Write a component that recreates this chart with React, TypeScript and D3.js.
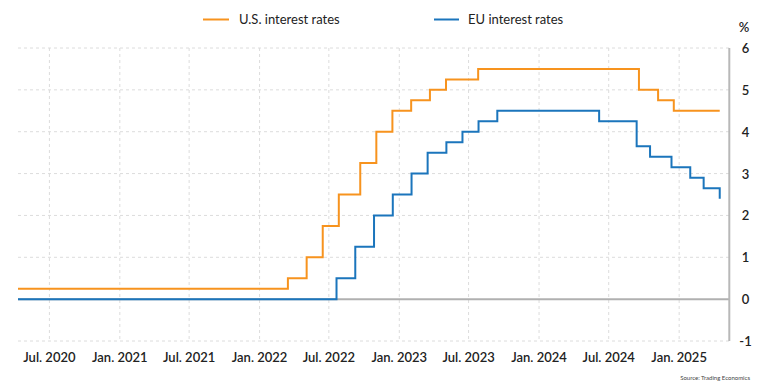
import React from "react";
import * as d3 from "d3";

// change dates and the rate set on each date (step after)
const usDates = [
  "2020-04-10", "2022-03-16", "2022-05-04", "2022-06-15", "2022-07-27", "2022-09-21",
  "2022-11-02", "2022-12-14", "2023-02-01", "2023-03-22", "2023-05-03", "2023-07-26",
  "2024-09-18", "2024-11-07", "2024-12-18",
];
const usRates = [0.25, 0.5, 1.0, 1.75, 2.5, 3.25, 4.0, 4.5, 4.75, 5.0, 5.25, 5.5, 5.0, 4.75, 4.5];

const euDates = [
  "2020-04-10", "2022-07-21", "2022-09-08", "2022-10-27", "2022-12-15", "2023-02-02",
  "2023-03-16", "2023-05-04", "2023-06-15", "2023-07-27", "2023-09-14", "2024-06-06",
  "2024-09-12", "2024-10-17", "2024-12-12", "2025-01-30", "2025-03-06", "2025-04-17",
];
const euRates = [0, 0.5, 1.25, 2.0, 2.5, 3.0, 3.5, 3.75, 4.0, 4.25, 4.5, 4.25, 3.65, 3.4, 3.15, 2.9, 2.65, 2.4];

const lastDate = "2025-04-17";
const xDomain = ["2020-04-10", "2025-05-12"];
const xTicks = ["2020-07-01", "2021-01-01", "2021-07-01", "2022-01-01", "2022-07-01",
  "2023-01-01", "2023-07-01", "2024-01-01", "2024-07-01", "2025-01-01"];
const xTickLabels = ["Jul. 2020", "Jan. 2021", "Jul. 2021", "Jan. 2022", "Jul. 2022",
  "Jan. 2023", "Jul. 2023", "Jan. 2024", "Jul. 2024", "Jan. 2025"];
const yTicks = [-1, 0, 1, 2, 3, 4, 5, 6];

const parse = d3.utcParse("%Y-%m-%d");

type Pt = { date: Date; value: number };

function toSeries(dates: string[], values: number[]): Pt[] {
  const pts = dates.map((d, i) => ({ date: parse(d)!, value: values[i] }));
  pts.push({ date: parse(lastDate)!, value: values[values.length - 1] });
  return pts;
}

const W = 768;
const H = 388;
const left = 18;
const right = 729.3;
const top = 48;
const bottom = 341;

const font = "Lato, 'Noto Sans', sans-serif";

export default function App() {
  const x = d3.scaleUtc()
    .domain(xDomain.map((d) => parse(d)!))
    .range([left, right]);
  const y = d3.scaleLinear().domain([-1, 6]).range([bottom, top]);

  const stepLine = d3.line<Pt>()
    .x((d) => x(d.date))
    .y((d) => y(d.value))
    .curve(d3.curveStepAfter);

  const us = toSeries(usDates, usRates);
  const eu = toSeries(euDates, euRates);

  const orange = "#f7931e";
  const blue = "#1b75bc";

  return (
    <svg width={W} height={H} style={{ position: "fixed", left: 0, top: 0, background: "#fff" }}>
      {/* legend */}
      <g fontFamily={font} fontSize={13} fill="#222">
        <line x1={203} x2={229} y1={19.5} y2={19.5} stroke={orange} strokeWidth={2} />
        <text x={239} y={24}>U.S. interest rates</text>
        <line x1={434} x2={459} y1={19.5} y2={19.5} stroke={blue} strokeWidth={2} />
        <text x={468} y={24}>EU interest rates</text>
      </g>

      {/* grid */}
      <g stroke="#dcdcdc" strokeWidth={1} strokeDasharray="3,3">
        {yTicks.filter((t) => t !== 0).map((t) => (
          <line key={t} x1={left} x2={right} y1={y(t)} y2={y(t)} />
        ))}
        {xTicks.map((t) => (
          <line key={t} x1={x(parse(t)!)} x2={x(parse(t)!)} y1={top} y2={bottom} />
        ))}
      </g>
      <line x1={left} x2={right} y1={y(0)} y2={y(0)} stroke="#b0b0b0" strokeWidth={2} />
      <line x1={right} x2={right} y1={top} y2={bottom} stroke="#b8b8b8" strokeWidth={2} />

      {/* series */}
      <path d={stepLine(us) ?? ""} fill="none" stroke={orange} strokeWidth={2} />
      <path d={stepLine(eu) ?? ""} fill="none" stroke={blue} strokeWidth={2} />

      {/* y axis labels */}
      <g fontFamily={font} fontSize={13} fontWeight={600} fill="#222" textAnchor="middle">
        <text x={744} y={32}>%</text>
        {yTicks.map((t) => (
          <text key={t} x={745.5} y={y(t) + 5}>{t}</text>
        ))}
      </g>

      {/* x axis labels */}
      <g fontFamily={font} fontSize={13} fontWeight={600} fill="#222" textAnchor="middle">
        {xTicks.map((t, i) => (
          <text key={t} x={x(parse(t)!)} y={362}>{xTickLabels[i]}</text>
        ))}
      </g>

      <text x={750} y={380} fontFamily={font} fontSize={6} fill="#444" textAnchor="end">
        Source: Trading Economics
      </text>
    </svg>
  );
}
